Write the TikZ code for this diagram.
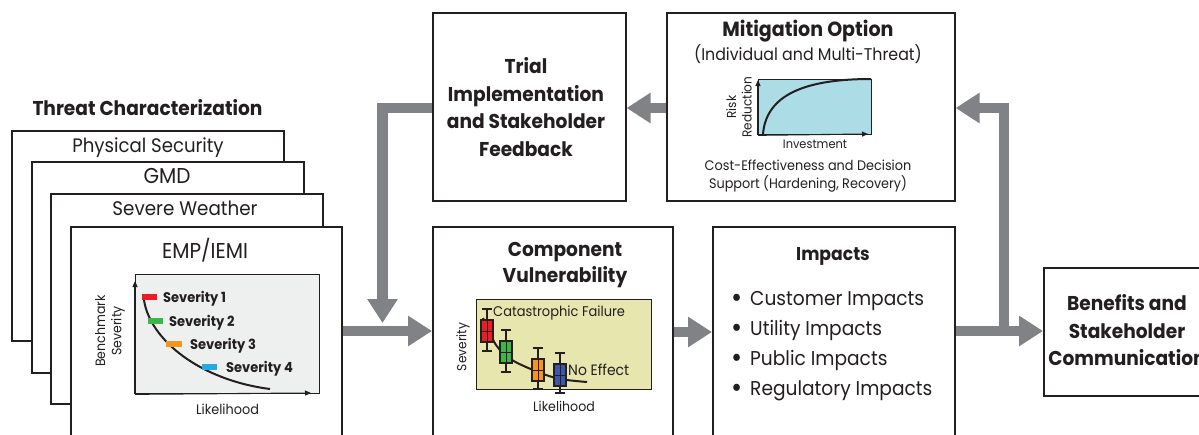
\documentclass[tikz,border=0pt]{standalone}
\usepackage{fontspec}
\setmainfont{Poppins}[FakeStretch=0.93]
\usetikzlibrary{arrows.meta}

\definecolor{ink}{HTML}{231F20}
\definecolor{flowgray}{HTML}{808285}
\definecolor{plotgray}{HTML}{EEF0EF}
\definecolor{plotkhaki}{HTML}{E6E6AE}
\definecolor{plotsky}{HTML}{ACDCE6}
\definecolor{sevred}{HTML}{ED1C24}
\definecolor{sevgreen}{HTML}{3DB54A}
\definecolor{sevorange}{HTML}{F7941D}
\definecolor{sevblue}{HTML}{27AAE1}
\definecolor{boxblue}{HTML}{3C57A8}

\newcommand{\fs}[1]{\fontsize{#1}{1.2\dimexpr #1pt\relax}\selectfont}
% enlarged list bullet
\newcommand{\impbullet}{\makebox[19pt][l]{\raisebox{-2pt}{\scalebox{1.45}{\textbullet}}}}

\tikzset{
  frame/.style={draw=ink, line width=1.6pt, fill=white, inner sep=0pt, anchor=north west},
  plotarea/.style={draw=ink, line width=1.3pt, inner sep=0pt, anchor=north west},
  txt/.style={inner sep=0pt, text=ink},
  flow/.style={draw=flowgray, line width=10.5pt, -{Triangle[width=29pt,length=24pt]}},
  axisline/.style={draw=ink, line width=1.1pt, -{Triangle[width=5pt,length=6pt]}},
  curve/.style={draw=ink, line width=2pt},
  sevbar/.style={line width=5.5pt},
}

% box-and-whisker mark: centre x, centre y, whisker low, whisker high, colour
\newcommand{\vulnmark}[5]{%
  \draw[ink, line width=1.2pt] (#1,#3) -- (#1,#4)
    (#1-5,#3) -- (#1+5,#3) (#1-5,#4) -- (#1+5,#4);
  \draw[ink, line width=1.2pt, fill=#5] (#1-6,#2-11) rectangle (#1+6,#2+11);
  \draw[ink, line width=1pt] (#1-6,#2) -- (#1+6,#2) (#1,#2-11) -- (#1,#2+11);
}

\begin{document}
\begin{tikzpicture}[x=1pt,y=-1pt]
\useasboundingbox (0,0) rectangle (1199,434);
\clip (0,0) rectangle (1199,434);
\fill[white] (0,0) rectangle (1199,434);

% ---------- threat characterization stack ----------
\node[txt, anchor=base, font=\fs{20}\bfseries] (threattitle) at (147.5,115) {Threat Characterization};
\node[frame, minimum width=272pt, minimum height=210pt] (phys) at (11,130) {};
\node[txt, anchor=base, font=\fs{19.5}] (physlabel) at (148,152.7) {Physical Security};
\node[frame, minimum width=272pt, minimum height=211pt] (gmd) at (31,161) {};
\node[txt, anchor=base, font=\fs{21.5}] (gmdlabel) at (167,183.5) {GMD};
\node[frame, minimum width=272pt, minimum height=210pt] (severe) at (50,193) {};
\node[txt, anchor=base, font=\fs{19.7}] (severelabel) at (185,215) {Severe Weather};
\node[frame, minimum width=271pt, minimum height=240pt] (emp) at (70,226) {};
\node[txt, anchor=base, font=\fs{21.5}] (emplabel) at (205,258) {EMP/IEMI};

% benchmark severity plot
\node[plotarea, fill=plotgray, minimum width=184pt, minimum height=119pt] (threatplot) at (135,274) {};
\draw[axisline] (threatplot.south west) -- (135,281);
\draw[axisline] (threatplot.south west) -- (311,393);
\draw[curve] (144,300) .. controls (150,340) and (200,380) .. (270,389);
\draw[sevbar, sevred] (142,297) -- (157,297);
\draw[sevbar, sevgreen] (148,321) -- (163,321);
\draw[sevbar, sevorange] (166,344) -- (182,344);
\draw[sevbar, sevblue] (202,367) -- (217,367);
\node[txt, anchor=base west, font=\fs{14}\bfseries] (sev1) at (163,302) {Severity 1};
\node[txt, anchor=base west, font=\fs{14}\bfseries] (sev2) at (169,326) {Severity 2};
\node[txt, anchor=base west, font=\fs{14}\bfseries] (sev3) at (190,349) {Severity 3};
\node[txt, anchor=base west, font=\fs{14}\bfseries] (sev4) at (226,372) {Severity 4};
\node[txt, rotate=90, align=center, font=\fs{13.5}] (benchaxis) at (110,331) {Benchmark\\Severity};
\node[txt, anchor=base, font=\fs{13.8}] (threatx) at (227.5,414) {Likelihood};

% ---------- trial implementation ----------
\node[frame, minimum width=193pt, minimum height=188pt] (trial) at (432,12) {};
\node[txt, align=center, font=\fontsize{20}{27.5}\selectfont\bfseries] (triallabel) at (526,107)
  {Trial\\Implementation\\and Stakeholder\\Feedback};

% ---------- mitigation option ----------
\node[frame, minimum width=288pt, minimum height=188pt] (mitig) at (666,12) {};
\node[txt, anchor=base, font=\fs{20.5}\bfseries] (mitigtitle) at (808,36.7) {Mitigation Option};
\node[txt, anchor=base, font=\fs{17}] (mitigsub) at (808,60) {(Individual and Multi-Threat)};
\node[plotarea, fill=plotsky, minimum width=113pt, minimum height=55pt] (mitigplot) at (758,79) {};
\draw[axisline] (mitigplot.south west) -- (758,80);
\draw[axisline] (mitigplot.south west) -- (868,134);
\draw[curve] (763,134) .. controls (766,99) and (797,79) .. (871,79);
\node[txt, rotate=90, align=center, font=\fs{13}] (riskaxis) at (739,107) {Risk\\Reduction};
\node[txt, anchor=base, font=\fs{12.3}] (mitigx) at (815,148) {Investment};
\node[txt, align=center, font=\fontsize{13.8}{18}\selectfont] (mitignote) at (808,176.5)
  {Cost-Effectiveness and Decision\\Support (Hardening, Recovery)};

% ---------- component vulnerability ----------
\node[frame, minimum width=240pt, minimum height=240pt] (comp) at (432,226) {};
\node[txt, align=center, font=\fontsize{20}{26.7}\selectfont\bfseries] (complabel) at (565,265)
  {Component\\Vulnerability};
\node[plotarea, fill=plotkhaki, minimum width=175pt, minimum height=90pt] (compplot) at (476,299) {};
\draw[curve] plot[smooth] coordinates {(483,318) (496,345) (512,360) (538,372) (560,379) (587,382)};
\vulnmark{487}{331}{309}{351}{sevred}
\vulnmark{506}{352}{330}{372}{sevgreen}
\vulnmark{538}{370}{348}{389}{sevorange}
\vulnmark{560}{375}{353}{393}{boxblue}
\node[txt, anchor=base west, font=\fs{14}] (catlabel) at (493,316.7) {Catastrophic Failure};
\node[txt, anchor=base west, font=\fs{15}] (nolabel) at (568,375) {No Effect};
\node[txt, rotate=90, font=\fs{13.2}] (compy) at (463,347) {Severity};
\node[txt, anchor=base, font=\fs{13.5}] (compx) at (564,411.7) {Likelihood};

% ---------- impacts ----------
\node[frame, minimum width=242pt, minimum height=240pt] (imp) at (712,226) {};
\node[txt, anchor=base, font=\fs{18.5}\bfseries] (imptitle) at (833,260) {Impacts};
\node[txt, align=left, anchor=west, font=\fontsize{20}{30}\selectfont] (implist) at (731,346.6)
  {\impbullet Customer Impacts\\
   \impbullet Utility Impacts\\
   \impbullet Public Impacts\\
   \impbullet Regulatory Impacts};

% ---------- benefits ----------
\node[frame, minimum width=200pt, minimum height=128pt] (ben) at (1043,267) {};
\node[txt, align=center, font=\fontsize{20}{27.5}\selectfont\bfseries] (benlabel) at (1127,330.5)
  {Benefits and\\Stakeholder\\Communication};

% ---------- flow arrows ----------
\coordinate (drop) at (382.5,323);
\coordinate (split) at (1004,336);
\draw[flow] (emp.east |- 0,331) -- (comp.west |- 0,331);
\draw[flow] (trial.west |- 0,108) -- (drop |- 0,108) -- (drop);
\draw[flow] (mitig.west |- 0,108) -- (trial.east |- 0,108);
\draw[flow] (comp.east |- 0,332) -- (imp.west |- 0,332);
\draw[flow] (imp.east |- 0,331) -- (ben.west |- 0,331);
\draw[flow] (split) -- (split |- 0,108) -- (mitig.east |- 0,108);
\end{tikzpicture}
\end{document}
